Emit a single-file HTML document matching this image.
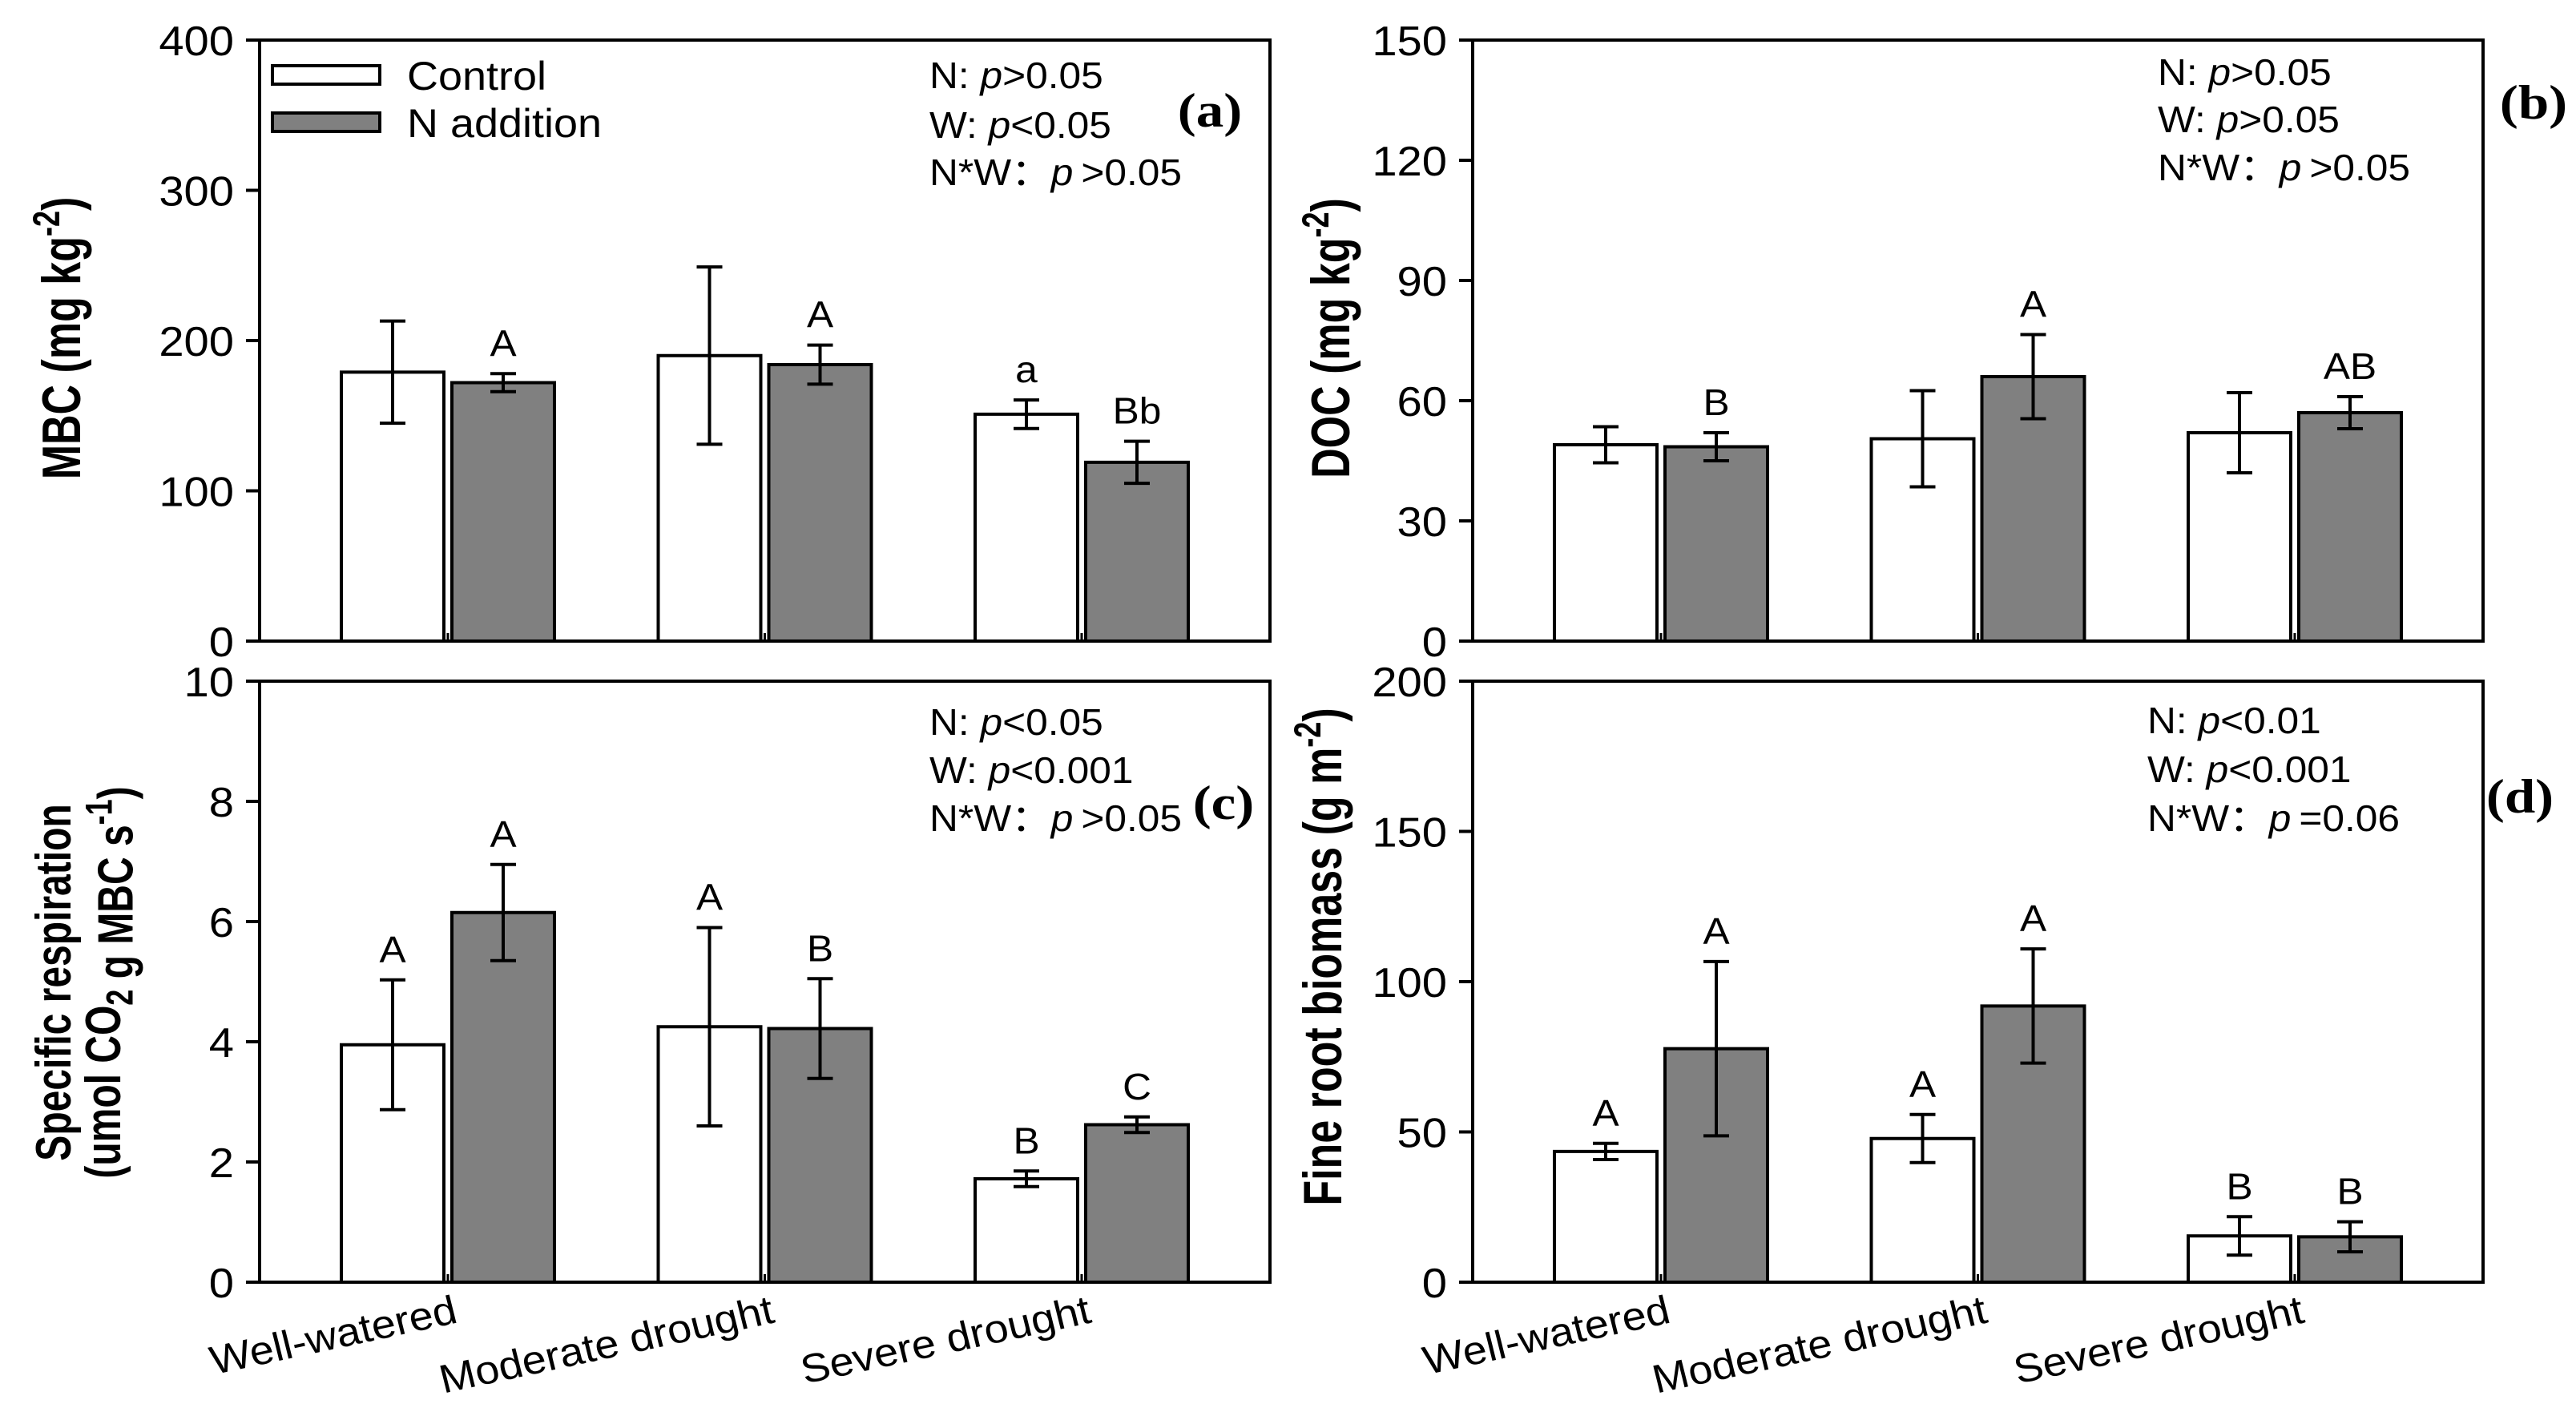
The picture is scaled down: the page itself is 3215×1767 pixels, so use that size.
<!DOCTYPE html>
<html><head><meta charset="utf-8"><style>
html,body{margin:0;padding:0;background:#fff;}
svg{display:block;font-family:"Liberation Sans","Noto Sans CJK SC",sans-serif;}
</style></head><body>
<svg id="fig" width="3215" height="1767" viewBox="0 0 3215 1767" xmlns="http://www.w3.org/2000/svg"></svg>
<script>
const categories = ["Well-watered","Moderate drought","Severe drought"];
// (a) MBC
const mbcControl = [179,190,151];
const mbcControlErr = [34,59,9.5];
const mbcN = [172,184,119];
const mbcNErr = [6,13,14];
const mbcControlLetters = ["","","a"];
const mbcNLetters = ["A","A","Bb"];
const mbcTicks = [0,100,200,300,400];
// (b) DOC
const docControl = [49,50.5,52];
const docControlErr = [4.5,12,10];
const docN = [48.5,66,57];
const docNErr = [3.5,10.5,4];
const docControlLetters = ["","",""];
const docNLetters = ["B","A","AB"];
const docTicks = [0,30,60,90,120,150];
// (c) Specific respiration
const srControl = [3.95,4.25,1.72];
const srControlErr = [1.08,1.65,0.13];
const srN = [6.15,4.22,2.62];
const srNErr = [0.8,0.83,0.13];
const srControlLetters = ["A","A","B"];
const srNLetters = ["A","B","C"];
const srTicks = [0,2,4,6,8,10];
// (d) Fine root biomass
const frControl = [43.5,47.8,15.4];
const frControlErr = [2.7,8,6.4];
const frN = [77.7,91.9,15.1];
const frNErr = [29,19,5];
const frControlLetters = ["A","A","B"];
const frNLetters = ["A","A","B"];
const frTicks = [0,50,100,150,200];

const NS="http://www.w3.org/2000/svg";
const svg=document.getElementById('fig');
const SX=1.08;
function el(tag,attrs,parent){const e=document.createElementNS(NS,tag);for(const k in attrs)e.setAttribute(k,attrs[k]);(parent||svg).appendChild(e);return e;}
function txt(x,y,str,size,anchor,parent,extra){
  const t=el('text',{transform:`translate(${x},${y}) scale(${SX},1)`,'font-size':size,'text-anchor':anchor||'start',fill:'#000'},parent);
  if(extra)for(const k in extra)t.setAttribute(k,extra[k]);
  t.textContent=str;return t;
}

function panel(cfg){
  const g=el('g',{});
  
  
  const L=cfg.left,R=cfg.left+1261,T=cfg.top,B=cfg.top+750;
  const ymax=cfg.ticks[cfg.ticks.length-1];
  const y=v=>B-(v/ymax)*(B-T);
  const gx=i=>L+235+i*395.5;
  cfg.ticks.forEach(v=>{
    const tk=el('line',{x1:L-17,x2:L,y1:y(v),y2:y(v),stroke:'#000','stroke-width':4},g);
    
    
    const tl=txt(L-32,y(v)+19,String(v),52,'end',g);
    
    
  });
  for(let i=0;i<categories.length;i++){
    const c=gx(i);
    [[cfg.ctrl,cfg.ctrlErr,cfg.ctrlL,c-133,'#fff','control'],[cfg.n,cfg.nErr,cfg.nL,c+5,'#808080','n-addition']].forEach(s=>{
      const v=s[0][i],e=s[1][i],x=s[3];
      const r=el('rect',{x:x,y:y(v),width:128,height:B-y(v),fill:s[4],stroke:'#000','stroke-width':4},g);
      
      
      const cx=x+64;
      const eb=el('path',{d:`M${cx},${y(v+e)}V${y(v-e)}M${cx-16},${y(v+e)}H${cx+16}M${cx-16},${y(v-e)}H${cx+16}`,stroke:'#000','stroke-width':4,fill:'none'},g);
      
      
      if(s[2][i]){
        const lt=txt(cx,y(v+e)-22,s[2][i],46,'middle',g);
        
        
      }
    });
    const mt=el('line',{x1:c,x2:c,y1:B,y2:B-10,stroke:'#000','stroke-width':3},g);
    
    
    if(cfg.xlabels){
      const xl=el('text',{transform:`translate(${c+14},${B+50}) scale(${SX},1) rotate(-13)`,'font-size':50,'text-anchor':'end'},g);
      xl.textContent=categories[i];
      
      
    }
  }
  const fr=el('rect',{x:L,y:T,width:R-L,height:B-T,fill:'none',stroke:'#000','stroke-width':4},g);
  
  
  cfg.stats.forEach((s,k)=>{
    const t=el('text',{transform:`translate(${cfg.statX},${cfg.statY[k]}) scale(${SX},1)`,'font-size':46},g);
    const a=el('tspan',{},t);a.textContent=s[0];
    const p=el('tspan',{'font-style':'italic'},t);p.textContent='p';
    const b=el('tspan',{},t);b.textContent=s[1];
    
    
  });
  const pl=el('text',{transform:`translate(${cfg.letterX},${cfg.letterY}) scale(1.15,1)`,'font-size':60,'font-weight':'bold','font-family':'"Liberation Serif",serif','text-anchor':'middle'},g);
  pl.textContent=cfg.letter;
  
  
  cfg.ytitle.forEach((lines,k)=>{
    const t=el('text',{transform:`translate(${cfg.ytX[k]},${cfg.ytY}) scale(1.3,1) rotate(-90)`,'font-size':cfg.ytSize||52,'font-weight':'bold','text-anchor':'middle'},g);
    lines.forEach(seg=>{
      const ts=el('tspan',seg[1]?{'font-size':36,dy:-20}:(seg[2]==='sub'?{'font-size':36,dy:12}:{dy:0}),t);
      ts.textContent=seg[0];
      if(seg[1]){const back=el('tspan',{dy:20},t);back.textContent=seg[2]||'';}
      if(seg[2]==='sub'){const back=el('tspan',{dy:-12},t);back.textContent='';}
    });
    
    
  });
  return g;
}

panel({name:'panel-a-mbc',left:324,top:50,ticks:mbcTicks,ctrl:mbcControl,ctrlErr:mbcControlErr,n:mbcN,nErr:mbcNErr,ctrlL:mbcControlLetters,nL:mbcNLetters,
  stats:[["N:  ",">0.05"],["W: ","<0.05"],["N*W：","\u2009>0.05"]],statX:1160,statY:[110,172,231],letter:'(a)',letterX:1510,letterY:158,
  ytitle:[[["MBC (mg kg"],["-2",true,")"]]],ytX:[100],ytY:422});
panel({name:'panel-b-doc',left:1838,top:50,ticks:docTicks,ctrl:docControl,ctrlErr:docControlErr,n:docN,nErr:docNErr,ctrlL:docControlLetters,nL:docNLetters,
  stats:[["N:  ",">0.05"],["W: ",">0.05"],["N*W：","\u2009>0.05"]],statX:2693,statY:[106,165,225],letter:'(b)',letterX:3162,letterY:148,
  ytitle:[[["DOC (mg kg"],["-2",true,")"]]],ytX:[1684],ytY:422});
panel({name:'panel-c-specific-respiration',left:324,top:850,ticks:srTicks,ctrl:srControl,ctrlErr:srControlErr,n:srN,nErr:srNErr,ctrlL:srControlLetters,nL:srNLetters,xlabels:true,
  stats:[["N:  ","<0.05"],["W: ","<0.001"],["N*W：","\u2009>0.05"]],statX:1160,statY:[917,977,1037],letter:'(c)',letterX:1527,letterY:1022,ytSize:48,
  ytitle:[[["Specific respiration"]],[["(umol CO"],["2",false,"sub"],[" g MBC s"],["-1",true,")"]]],ytX:[88,150],ytY:1226});
panel({name:'panel-d-fine-root-biomass',left:1838,top:850,ticks:frTicks,ctrl:frControl,ctrlErr:frControlErr,n:frN,nErr:frNErr,ctrlL:frControlLetters,nL:frNLetters,xlabels:true,
  stats:[["N:  ","<0.01"],["W: ","<0.001"],["N*W：","\u2009=0.06"]],statX:2680,statY:[915,976,1037],letter:'(d)',letterX:3145,letterY:1014,
  ytitle:[[["Fine root  biomass (g m"],["-2",true,")"]]],ytX:[1674],ytY:1194});

const lg=el('g',{});


const lb1=el('rect',{x:340,y:82,width:134,height:23,fill:'#fff',stroke:'#000','stroke-width':4},lg);


const lt1=txt(508,112,'Control',50,'start',lg);


const lb2=el('rect',{x:340,y:141,width:134,height:23,fill:'#808080',stroke:'#000','stroke-width':4},lg);


const lt2=txt(508,171,'N addition',50,'start',lg);


</script>
</body></html>
